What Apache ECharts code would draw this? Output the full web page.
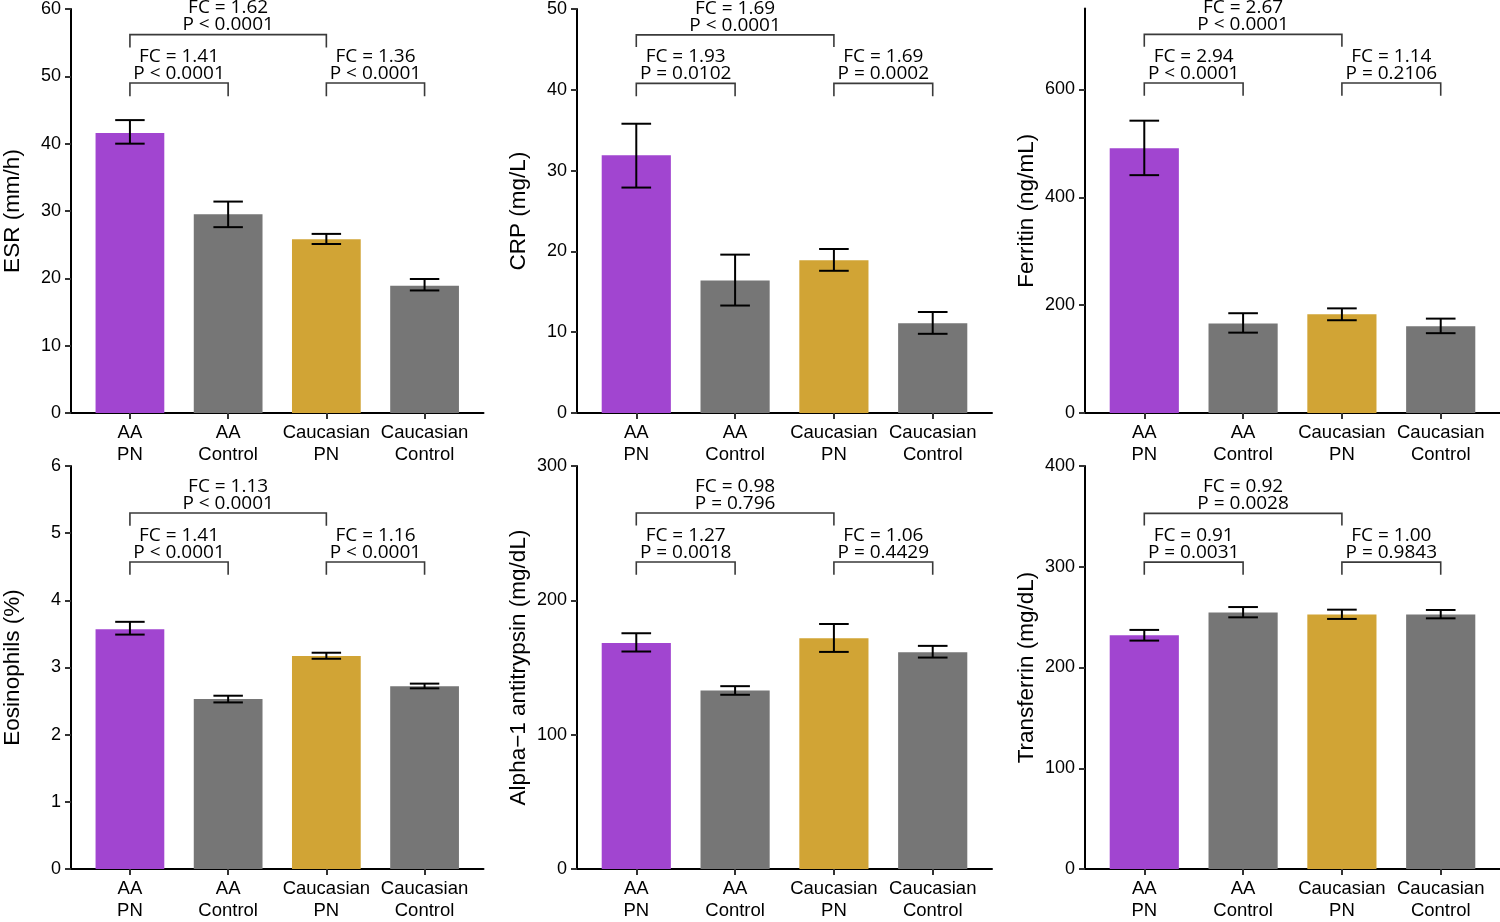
<!DOCTYPE html>
<html><head><meta charset="utf-8">
<script src="https://cdn.jsdelivr.net/npm/echarts@6/dist/echarts.min.js"></script>
<style>html,body{margin:0;padding:0;background:#fff}#c{width:1500px;height:922px}</style>
</head><body><div id="c"></div>
<script>
// ---------- data ----------
const categories = ['AA\nPN', 'AA\nControl', 'Caucasian\nPN', 'Caucasian\nControl'];
const groupColors = ['#A145D0', '#767676', '#D1A435', '#767676'];
const panelTitles = ['ESR (mm/h)', 'CRP (mg/L)', 'Ferritin (ng/mL)', 'Eosinophils (%)', 'Alpha\u22121 antitrypsin (mg/dL)', 'Transferrin (mg/dL)'];
const yMax = [60, 50, 750, 6, 300, 400];
const yTicks = [
  [0, 10, 20, 30, 40, 50, 60],
  [0, 10, 20, 30, 40, 50],
  [0, 200, 400, 600],
  [0, 1, 2, 3, 4, 5, 6],
  [0, 100, 200, 300],
  [0, 100, 200, 300, 400]
];

const esrMean = [41.6, 29.5, 25.8, 18.9];
const esrLow  = [40.0, 27.6, 25.1, 18.2];
const esrHigh = [43.5, 31.4, 26.6, 19.9];

const crpMean = [31.9, 16.4, 18.9, 11.1];
const crpLow  = [27.9, 13.3, 17.6, 9.8];
const crpHigh = [35.8, 19.6, 20.3, 12.5];

const ferritinMean = [491, 166, 183, 161];
const ferritinLow  = [441, 149, 172, 148];
const ferritinHigh = [542, 185, 194, 175];

const eosMean = [3.57, 2.53, 3.17, 2.72];
const eosLow  = [3.49, 2.48, 3.13, 2.69];
const eosHigh = [3.68, 2.58, 3.22, 2.76];

const a1atMean = [168.3, 132.9, 171.8, 161.4];
const a1atLow  = [161.9, 129.7, 161.6, 157.4];
const a1atHigh = [175.5, 136.1, 182.4, 166.1];

const tfMean = [232.0, 254.5, 252.5, 252.5];
const tfLow  = [226.7, 249.8, 248.2, 248.8];
const tfHigh = [237.3, 260.0, 257.4, 257.1];

// comparisons: [from group, to group]
const comparisons = [[1, 2], [3, 4], [1, 3]];
const esrStats = ['FC = 1.41\nP < 0.0001', 'FC = 1.36\nP < 0.0001', 'FC = 1.62\nP < 0.0001'];
const crpStats = ['FC = 1.93\nP = 0.0102', 'FC = 1.69\nP = 0.0002', 'FC = 1.69\nP < 0.0001'];
const ferritinStats = ['FC = 2.94\nP < 0.0001', 'FC = 1.14\nP = 0.2106', 'FC = 2.67\nP < 0.0001'];
const eosStats = ['FC = 1.41\nP < 0.0001', 'FC = 1.16\nP < 0.0001', 'FC = 1.13\nP < 0.0001'];
const a1atStats = ['FC = 1.27\nP = 0.0018', 'FC = 1.06\nP = 0.4429', 'FC = 0.98\nP = 0.796'];
const tfStats = ['FC = 0.91\nP = 0.0031', 'FC = 1.00\nP = 0.9843', 'FC = 0.92\nP = 0.0028'];

// bracket heights (data units): [bar level, leg end] for each comparison
const esrBrackets = [[49.0, 47.05], [49.0, 47.05], [56.2, 54.3]];
const crpBrackets = [[40.8, 39.2], [40.8, 39.2], [46.8, 45.3]];
const ferritinBrackets = [[612, 588], [612, 588], [702, 679]];
const eosBrackets = [[4.57, 4.38], [4.57, 4.38], [5.30, 5.11]];
const a1atBrackets = [[228.5, 219], [228.5, 219], [265, 255.7]];
const tfBrackets = [[304.6, 292], [304.6, 292], [353, 341]];

// ---------- build ----------
const means = [esrMean, crpMean, ferritinMean, eosMean, a1atMean, tfMean];
const lows = [esrLow, crpLow, ferritinLow, eosLow, a1atLow, tfLow];
const highs = [esrHigh, crpHigh, ferritinHigh, eosHigh, a1atHigh, tfHigh];
const stats = [esrStats, crpStats, ferritinStats, eosStats, a1atStats, tfStats];
const brackets = [esrBrackets, crpBrackets, ferritinBrackets, eosBrackets, a1atBrackets, tfBrackets];

const colLeft = [69, 577, 1085];
const colWidth = [414.5, 415, 415];
const rowTop = [8.5, 466];
const rowHeight = [404.5, 404];

const LABEL_FONT = '"Liberation Sans", Arial, Helvetica, sans-serif';
const ANNOT_FONT = '"Open Sans", "Noto Sans", sans-serif';

const grids = [], xAxes = [], yAxes = [], series = [];

for (let i = 0; i < 6; i++) {
  const r = Math.floor(i / 3), c = i % 3;
  grids.push({left: colLeft[c], top: rowTop[r], width: colWidth[c], height: rowHeight[r]});
  xAxes.push({
    type: 'value', gridIndex: i, min: 0.4, max: 4.6,
    splitLine: {show: false},
    axisLine: {show: true, onZero: true, lineStyle: {color: '#000', width: 2}},
    axisTick: {show: true, customValues: [1, 2, 3, 4], length: 6, lineStyle: {color: '#333', width: 2}},
    axisLabel: {
      show: true, customValues: [1, 2, 3, 4], margin: 9,
      formatter: v => categories[Math.round(v) - 1],
      fontSize: 18.5, lineHeight: 22, color: '#000', fontFamily: LABEL_FONT
    }
  });
  yAxes.push({
    type: 'value', gridIndex: i, min: 0, max: yMax[i],
    splitLine: {show: false},
    name: panelTitles[i], nameLocation: 'middle', nameGap: 47,
    nameTextStyle: {fontSize: 22.5, color: '#000', fontFamily: LABEL_FONT},
    axisLine: {show: true, lineStyle: {color: '#000', width: 2}},
    axisTick: {show: true, customValues: yTicks[i], length: 6, lineStyle: {color: '#333', width: 2}},
    axisLabel: {show: true, customValues: yTicks[i], margin: 10, fontSize: 18, color: '#000', fontFamily: LABEL_FONT}
  });

  const barData = means[i].map((m, k) => [k + 1, m, lows[i][k], highs[i][k], k]);
  series.push({
    type: 'custom', xAxisIndex: i, yAxisIndex: i, data: barData, silent: true,
    renderItem: function (params, api) {
      const x = api.value(0), m = api.value(1), lo = api.value(2), hi = api.value(3), ci = api.value(4);
      const a = api.coord([x - 0.35, 0]), b = api.coord([x + 0.35, m]);
      const pl = api.coord([x, lo]), ph = api.coord([x, hi]);
      const cl = api.coord([x - 0.15, lo]), cr = api.coord([x + 0.15, lo]);
      const es = {stroke: '#000', lineWidth: 2};
      return {type: 'group', children: [
        {type: 'rect', shape: {x: a[0], y: b[1], width: b[0] - a[0], height: a[1] - b[1]}, style: {fill: groupColors[ci]}},
        {type: 'line', shape: {x1: pl[0], y1: pl[1], x2: ph[0], y2: ph[1]}, style: es},
        {type: 'line', shape: {x1: cl[0], y1: pl[1], x2: cr[0], y2: pl[1]}, style: es},
        {type: 'line', shape: {x1: cl[0], y1: ph[1], x2: cr[0], y2: ph[1]}, style: es}
      ]};
    }
  });

  const brData = comparisons.map((cmp, k) => [cmp[0], cmp[1], brackets[i][k][0], brackets[i][k][1], k]);
  const st = stats[i];
  series.push({
    type: 'custom', xAxisIndex: i, yAxisIndex: i, data: brData, silent: true, clip: false,
    renderItem: function (params, api) {
      const x1 = api.value(0), x2 = api.value(1), yl = api.value(2), yg = api.value(3), k = api.value(4);
      const p1 = api.coord([x1, yl]), p2 = api.coord([x2, yl]);
      const g1 = api.coord([x1, yg]), g2 = api.coord([x2, yg]);
      return {type: 'group', children: [
        {type: 'polyline', shape: {points: [[g1[0], g1[1]], [p1[0], p1[1]], [p2[0], p2[1]], [g2[0], g2[1]]]},
         style: {stroke: '#3a3a3a', lineWidth: 1.6, fill: null}},
        {type: 'text', x: (p1[0] + p2[0]) / 2, y: p1[1] - 1,
         style: {text: st[k], fill: '#000', font: '19px ' + ANNOT_FONT, lineHeight: 17,
                 align: 'center', verticalAlign: 'bottom', textAlign: 'center', textVerticalAlign: 'bottom'}}
      ]};
    }
  });
}

const chart = echarts.init(document.getElementById('c'), null, {renderer: 'canvas'});
chart.setOption({
  backgroundColor: '#fff',
  animation: false,
  grid: grids, xAxis: xAxes, yAxis: yAxes, series: series
});
</script>
</body></html>
